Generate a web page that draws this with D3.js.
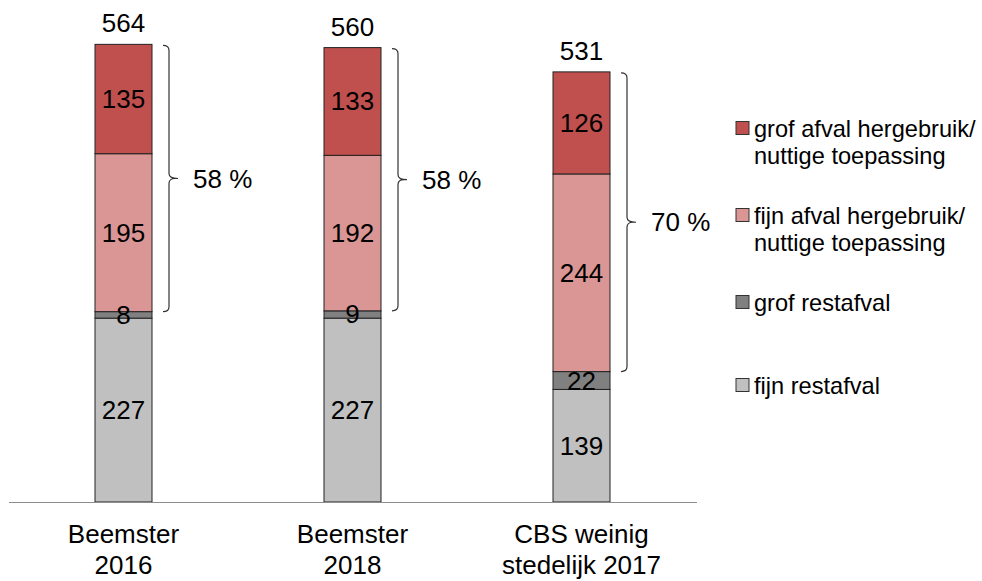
<!DOCTYPE html>
<html><head><meta charset="utf-8">
<script src="https://cdn.jsdelivr.net/npm/d3@7"></script>
<style>
html,body{margin:0;padding:0;background:#fff;}
text{font-family:"Liberation Sans",Arial,sans-serif;fill:#000;}
</style></head>
<body><svg id="chart" width="982" height="581"></svg>
<script>
const categories = [["Beemster","2016"],["Beemster","2018"],["CBS weinig","stedelijk 2017"]];
const seriesNames = ["fijn restafval","grof restafval","fijn afval hergebruik/\nnuttige toepassing","grof afval hergebruik/\nnuttige toepassing"];
const fijnRest = [227, 227, 139];
const grofRest = [8, 9, 22];
const fijnHerg = [195, 192, 244];
const grofHerg = [135, 133, 126];
const totals = [564, 560, 531];
const percents = ["58 %", "58 %", "70 %"];
const colors = ["#C0C0C0", "#808080", "#D99694", "#C0504D"];

const svg = d3.select("#chart");
const keys = ["fr","gr","fh","gh"];
const rows = categories.map((c,i)=>({cat:i, fr:fijnRest[i], gr:grofRest[i], fh:fijnHerg[i], gh:grofHerg[i]}));
const stack = d3.stack().keys(keys)(rows);

const x = d3.scaleBand().domain(d3.range(categories.length)).range([9, 696]).paddingInner(0).paddingOuter(0);
const y = d3.scaleLinear().domain([0, 600]).range([502, 16]);
const bw = 57;
const bx = i => x(i) + x.bandwidth()/2 - bw/2;
const FS = 26;

const g = svg.append("g");
stack.forEach((s, k) => {
  g.selectAll(null).data(s).enter().append("rect")
    .attr("x", (d,i)=>bx(i))
    .attr("y", d=>y(d[1]))
    .attr("width", bw)
    .attr("height", d=>y(d[0])-y(d[1]))
    .attr("fill", colors[k])
    .attr("stroke", "#222").attr("stroke-width", 1);
});
// value labels
stack.forEach((s, k) => {
  g.selectAll(null).data(s).enter().append("text")
    .attr("x", (d,i)=>bx(i)+bw/2)
    .attr("y", d=>(y(d[0])+y(d[1]))/2)
    .attr("text-anchor","middle").attr("dominant-baseline","central")
    .attr("font-size", FS)
    .text(d=>d[1]-d[0]);
});
// totals
g.selectAll(null).data(totals).enter().append("text")
  .attr("x",(d,i)=>bx(i)+bw/2)
  .attr("y",(d,i)=>y(stack[3][i][1]) - 12)
  .attr("text-anchor","middle").attr("font-size",FS)
  .text(d=>d);

// axis line
svg.append("line").attr("x1",9).attr("x2",697).attr("y1",502.5).attr("y2",502.5)
  .attr("stroke","#8c8c8c").attr("stroke-width",1);

// category labels
categories.forEach((c,i)=>{
  const t = svg.append("text").attr("x", bx(i)+bw/2).attr("y", 543)
    .attr("text-anchor","middle").attr("font-size",FS);
  c.forEach((line,j)=>t.append("tspan").attr("x", bx(i)+bw/2).attr("dy", j===0?0:31).text(line));
});

// braces
categories.forEach((c,i)=>{
  const top = y(stack[3][i][1]) + 1;
  const bot = y(stack[2][i][0]);
  const mid = (top+bot)/2;
  const r = bx(i)+bw;
  const x0 = r+11, xv = r+17, xt = r+26, c1 = 5;
  const p = `M${x0},${top} Q${xv},${top} ${xv},${top+c1} L${xv},${mid-c1} Q${xv},${mid} ${xt},${mid} M${xv},${mid+c1} Q${xv},${mid} ${xt-3},${mid} M${xv},${mid+c1} L${xv},${bot-c1} Q${xv},${bot} ${x0},${bot}`;
  svg.append("path").attr("d",p).attr("fill","none").attr("stroke","#333").attr("stroke-width",1.2);
  svg.append("text").attr("x", r+41).attr("y", mid).attr("dominant-baseline","central")
    .attr("font-size",FS).text(percents[i]);
});

// legend (top to bottom: reverse stack order)
const legendY = [128, 215, 302, 385];
const legendOrder = [3,2,1,0];
legendOrder.forEach((k,j)=>{
  const cy = legendY[j];
  svg.append("rect").attr("x",736).attr("y",cy-6.5).attr("width",13).attr("height",13)
    .attr("fill",colors[k]).attr("stroke","#333").attr("stroke-width",1);
  const lines = seriesNames[k].split("\n");
  const t = svg.append("text").attr("x",754).attr("y",cy+9).attr("font-size",23.6);
  lines.forEach((l,m)=>t.append("tspan").attr("x", 754).attr("dy", m===0?0:27).text(l));
});
</script></body></html>
